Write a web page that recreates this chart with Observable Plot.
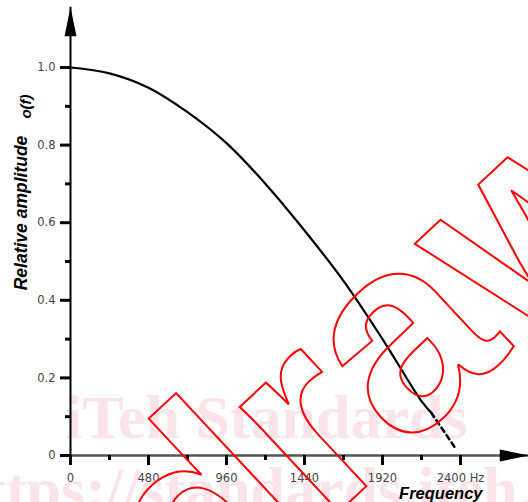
<!DOCTYPE html>
<html>
<head>
<meta charset="utf-8">
<script src="https://cdn.jsdelivr.net/npm/d3@7"></script>
<script src="https://cdn.jsdelivr.net/npm/@observablehq/plot@0.6"></script>
<style>
  html, body { margin: 0; padding: 0; background: #fff; overflow: hidden; }
  #chart svg { display: block; }
</style>
</head>
<body>
<div id="chart"></div>
<script>
// Relative amplitude versus frequency (Hz)
const solidFreq = [0, 240, 480, 720, 960, 1200, 1440, 1680, 1920, 2160, 2220];
const solidAmp  = [1.0, 0.985, 0.948, 0.885, 0.805, 0.70, 0.58, 0.45, 0.30, 0.14, 0.11];
const dashFreq  = [2220, 2375];
const dashAmp   = [0.11, 0.015];

const xTicks      = [0, 480, 960, 1440, 1920, 2400];
const xTickLabels = ["0", "480", "960", "1440", "1920", "2400 Hz"];
const xMinorTicks = [240, 720, 1200, 1680, 2160];
const yTicks      = [0, 0.2, 0.4, 0.6, 0.8, 1.0];
const yTickLabels = ["0", "0.2", "0.4", "0.6", "0.8", "1.0"];
const yMinorTicks = [0.1, 0.3, 0.5, 0.7, 0.9];

const xTitle = "Frequency";
const yTitle = "Relative amplitude";
const ySubTitle = "o(f)";

// axes run past the plotted range and end in arrowheads
const xAxisEnd = 2820;
const yAxisEnd = 1.155;

const solid = solidFreq.map((f, i) => ({f, a: solidAmp[i]}));
const dashed = dashFreq.map((f, i) => ({f, a: dashAmp[i]}));

const arrowUp = {draw(ctx) { ctx.moveTo(0, 0); ctx.lineTo(6, 29); ctx.lineTo(-6, 29); ctx.closePath(); }};
const arrowRight = {draw(ctx) { ctx.moveTo(0, 0); ctx.lineTo(-29, -6); ctx.lineTo(-29, 6); ctx.closePath(); }};

const titleFont = "Liberation Sans, Arial, sans-serif";

const chart = Plot.plot({
  width: 528,
  height: 502,
  marginLeft: 70,
  marginRight: 68,
  marginTop: 67,
  marginBottom: 47,
  x: {domain: [0, 2400]},
  y: {domain: [0, 1]},
  style: {fontFamily: "DejaVu Sans, sans-serif", fontSize: "11.5px", color: "#444", background: "white", overflow: "hidden"},
  marks: [
    // axis lines
    Plot.ruleY([0], {x1: 0, x2: xAxisEnd, stroke: "#555", strokeWidth: 2.5}),
    Plot.ruleX([0], {y1: 0, y2: yAxisEnd, stroke: "black", strokeWidth: 2}),
    Plot.dot([0], {x: xAxisEnd, y: 0, symbol: arrowRight, fill: "black", stroke: "none"}),
    Plot.dot([0], {x: 0, y: yAxisEnd, symbol: arrowUp, fill: "black", stroke: "none"}),
    // ticks
    Plot.axisX(xTicks, {tickSize: 10, tickPadding: 8, strokeWidth: 3, stroke: "black", fill: "#444",
      tickFormat: d => xTickLabels[xTicks.indexOf(d)], label: null}),
    Plot.axisX(xMinorTicks, {tickSize: 5, strokeWidth: 3, stroke: "black", fill: "none", label: null}),
    Plot.axisY(yTicks, {tickSize: 10, tickPadding: 5, strokeWidth: 3, stroke: "black", fill: "#444",
      tickFormat: d => yTickLabels[yTicks.indexOf(d)], label: null}),
    Plot.axisY(yMinorTicks, {tickSize: 5, strokeWidth: 3, stroke: "black", fill: "none", label: null}),
    // response curve
    Plot.line(solid, {x: "f", y: "a", stroke: "black", strokeWidth: 2.2, curve: "catmull-rom"}),
    Plot.line(dashed, {x: "f", y: "a", stroke: "black", strokeWidth: 2.5, strokeDasharray: "5,4"}),
    // titles
    Plot.text([xTitle], {frameAnchor: "bottom-right", textAnchor: "end", lineAnchor: "bottom", dx: 22, dy: 43,
      fontFamily: titleFont, fontWeight: "bold", fontStyle: "italic", fontSize: 16.5, fill: "black"}),
    Plot.text([yTitle], {frameAnchor: "left", rotate: -90, textAnchor: "middle", lineAnchor: "bottom", dx: -44, dy: -48.5,
      fontFamily: titleFont, fontWeight: "bold", fontStyle: "italic", fontSize: 17.5, fill: "black"}),
    Plot.text([ySubTitle], {frameAnchor: "left", rotate: -90, textAnchor: "middle", lineAnchor: "bottom", dx: -39.5, dy: -155,
      fontFamily: titleFont, fontWeight: "bold", fontStyle: "italic", fontSize: 15, fill: "black"})
  ]
});

document.getElementById("chart").appendChild(chart);

// publisher marks: pale serif banner behind, red outlined stamp on top
const svg = d3.select(chart);
const banner = svg.insert("g", ":first-child")
  .attr("font-family", "Liberation Serif, serif")
  .attr("font-weight", "bold")
  .attr("font-size", 62)
  .attr("text-anchor", "start")
  .attr("fill", "#fbe3ea");
banner.append("text").attr("x", 65).attr("y", 438).text("iTeh Standards");
banner.append("text").attr("x", 266).attr("y", 510).attr("text-anchor", "middle").text("https://standards.iteh.ai");

svg.append("text")
  .attr("transform", "translate(-227.6,1040) rotate(-43)")
  .attr("text-anchor", "start")
  .attr("font-family", "Liberation Sans, Arial, sans-serif")
  .attr("font-weight", "bold")
  .attr("font-size", 273)
  .attr("fill", "none")
  .attr("stroke", "#f00")
  .attr("stroke-width", 2)
  .text("Withdrawn");
</script>
</body>
</html>
